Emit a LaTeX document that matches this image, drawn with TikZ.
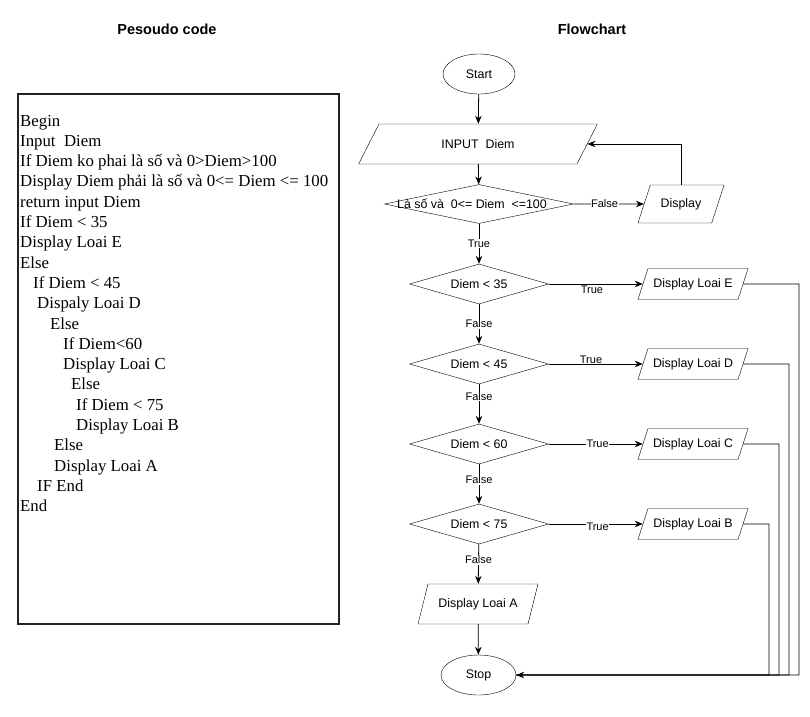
\documentclass[tikz,border=0pt]{standalone}
\usepackage{fontspec}
\setmainfont{Liberation Serif}
\newfontfamily\flowfont{Liberation Sans}
\usepackage{tikz}
\usetikzlibrary{arrows.meta,shapes.geometric}
\definecolor{foreground}{RGB}{0,0,0}
\definecolor{boxline}{RGB}{35,35,35}
% text box of a parallelogram: body width, height, text
\newcommand{\iobox}[3]{\parbox[c][#2][c]{#1}{\centering #3}}
\tikzstyle{term}=[ellipse,draw,minimum width=75pt,minimum height=40pt,inner sep=0pt,font=\flowfont\fontsize{12.4}{14}\selectfont]
\tikzstyle{decision}=[diamond,draw,minimum width=139pt,minimum height=40pt,inner sep=0pt,font=\flowfont\fontsize{12.4}{14}\selectfont]
\tikzstyle{io}=[trapezium,trapezium left angle=72,trapezium right angle=108,draw,inner sep=0pt,font=\flowfont\fontsize{12.4}{14}\selectfont]
\tikzstyle{edge} = [draw,line width=0.8pt,-]
\tikzstyle{dedge} = [draw,line width=0.8pt,-{Stealth[length=8pt,width=6.5pt]}]
\tikzstyle{lbl}=[fill=white,inner sep=0.5pt,font=\flowfont\fontsize{11}{12}\selectfont]
\tikzstyle{code}=[anchor=base west,inner sep=0pt,font=\fontsize{16.8}{19}\selectfont]
\tikzstyle{title}=[inner sep=0pt,font=\flowfont\bfseries\fontsize{14.5}{16}\selectfont]
\tikzstyle{codebox}=[draw=boxline,line width=1.2pt,minimum width=321pt,minimum height=530pt,inner sep=0pt]

\begin{document}
\begin{tikzpicture}[x=1pt,y=-1pt]

      \useasboundingbox (0,0) rectangle (810,716);

      \node[title] (ptitle) at (167,29) {Pesoudo code};
      \node[title] (ftitle) at (592,29) {Flowchart};

      % pseudo code
      \node[codebox] (codebox) at (178.5,359) {};
      \node[code] (c1) at (20,126) {Begin};
      \node[code] (c2) at (20,146.3) {Input\ \ Diem};
      \node[code] (c3) at (20,166.6) {If Diem ko phai là số và 0>Diem>100};
      \node[code] (c4) at (20,186.9) {Display Diem phải là số và 0<= Diem <= 100};
      \node[code] (c5) at (20,207.2) {return input Diem};
      \node[code] (c6) at (20,227.5) {If Diem < 35};
      \node[code] (c7) at (20,247.8) {Display Loai E};
      \node[code] (c8) at (20,268.1) {Else};
      \node[code] (c9) at (33,288.4) {If Diem < 45};
      \node[code] (c10) at (37,308.7) {Dispaly Loai D};
      \node[code] (c11) at (50,329) {Else};
      \node[code] (c12) at (63,349.3) {If Diem<60};
      \node[code] (c13) at (63,369.6) {Display Loai C};
      \node[code] (c14) at (71,389.9) {Else};
      \node[code] (c15) at (76,410.2) {If Diem < 75};
      \node[code] (c16) at (76,430.5) {Display Loai B};
      \node[code] (c17) at (54,450.8) {Else};
      \node[code] (c18) at (54,471.1) {Display Loai A};
      \node[code] (c19) at (37,491.4) {IF End};
      \node[code] (c20) at (20,511.7) {End};

      % flowchart
      \node[term,minimum width=72pt] (start) at (479,74) {Start};
      \node[io,trapezium left angle=63,trapezium right angle=117] (input) at (478,144) {\iobox{198pt}{40pt}{INPUT\ \ Diem}};
      \node[decision,minimum width=189pt,minimum height=39pt] (check) at (479,204) {\makebox[0pt]{Là số và\ \ 0<= Diem\ \ <=100\hspace{14pt}}};
      \node[io] (disp) at (681,204) {\iobox{61.4pt}{38pt}{Display}};

      \node[decision] (d35) at (479,284) {\makebox[0pt]{Diem < 35}};
      \node[io] (dE) at (693,284) {\iobox{90pt}{31pt}{Display Loai E}};
      \node[decision] (d45) at (479,364) {\makebox[0pt]{Diem < 45}};
      \node[io] (dD) at (693,364) {\iobox{90pt}{31pt}{Display Loai D}};
      \node[decision] (d60) at (479,444) {\makebox[0pt]{Diem < 60}};
      \node[io] (dC) at (693,444) {\iobox{90pt}{31pt}{Display Loai C}};
      \node[decision] (d75) at (479,524) {\makebox[0pt]{Diem < 75}};
      \node[io] (dB) at (693,524) {\iobox{90pt}{31pt}{Display Loai B}};
      \node[io,trapezium left angle=76,trapezium right angle=104] (dA) at (478,604) {\iobox{100pt}{40pt}{Display Loai A}};
      \node[term] (stop) at (478.5,675) {Stop};

      \coordinate (rE) at (799,284);
      \coordinate (rD) at (789,364);
      \coordinate (rC) at (779,444);
      \coordinate (rB) at (769,524);

      \path[dedge] (start) -- (input);
      \path[dedge] (input) -- (check);
      \path[dedge] (check) -- node[lbl,pos=0.44] {False} (disp);
      \path[dedge] (disp.north) |- (input.east);
      \path[dedge] (check) -- node[lbl,pos=0.5] {True} (d35);

      \path[dedge] (d35) -- node[lbl,pos=0.46,yshift=-6pt] {True} (dE);
      \path[dedge] (d35) -- node[lbl,pos=0.5] {False} (d45);
      \path[dedge] (d45) -- node[lbl,pos=0.45,yshift=4pt] {True} (dD);
      \path[dedge] (d45) -- node[lbl,pos=0.3] {False} (d60);
      \path[dedge] (d60) -- node[lbl,pos=0.52] {True} (dC);
      \path[dedge] (d60) -- node[lbl,pos=0.4] {False} (d75);
      \path[dedge] (d75) -- node[lbl,pos=0.52,yshift=-3pt] {True} (dB);
      \path[dedge] (d75) -- node[lbl,pos=0.4] {False} (dA);
      \path[dedge] (dA) -- (stop);

      \path[dedge] (dE.east) -- (rE) |- (stop.east);
      \path[edge] (dD.east) -- (rD) |- (stop.east);
      \path[edge] (dC.east) -- (rC) |- (stop.east);
      \path[edge] (dB.east) -- (rB) |- (stop.east);

    \end{tikzpicture}
\end{document}
